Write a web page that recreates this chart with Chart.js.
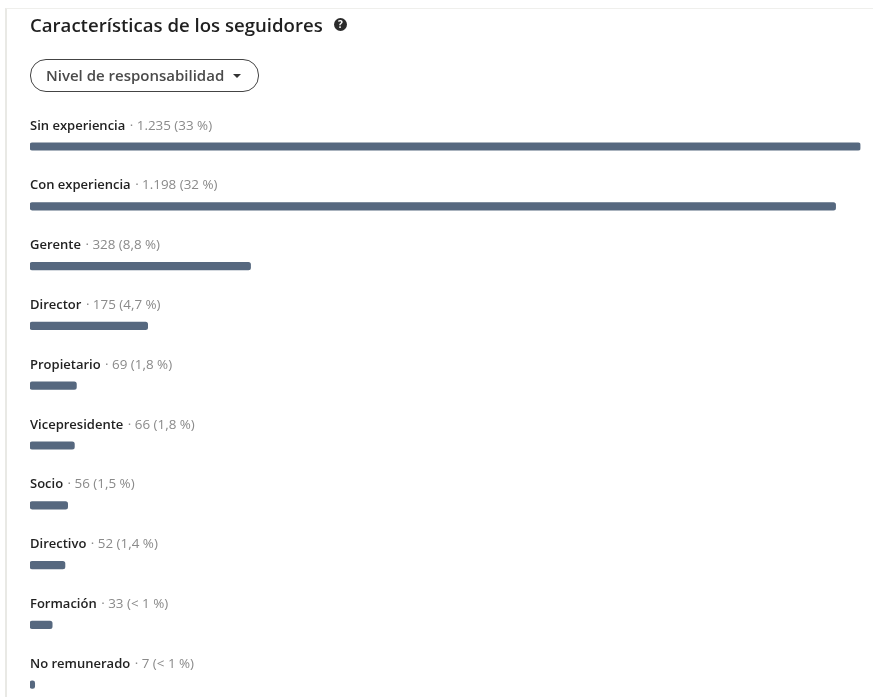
<!DOCTYPE html>
<html lang="es">
<head>
<meta charset="utf-8">
<title>Características de los seguidores</title>
<script src="https://cdn.jsdelivr.net/npm/chart.js@4/dist/chart.umd.min.js"></script>
<style>
  html, body { margin: 0; padding: 0; background: #fff; width: 873px; height: 697px; overflow: hidden; }
  #page { position: relative; width: 873px; height: 697px; overflow: hidden; font-family: "Open Sans", "Noto Sans", sans-serif; }
  #edge { position: absolute; left: 5px; top: 8px; right: 0; bottom: 0; border-left: 2px solid #e9e9e5; border-top: 1px solid #efefec; }
  h1 { position: absolute; left: 30px; top: 13px; margin: 0; font-size: 18.6px; line-height: 24px; font-weight: 600; color: #1f1f1f; white-space: nowrap; }
  #help { position: absolute; left: 334px; top: 18px; width: 13px; height: 13px; border-radius: 50%; background: #2b2b2b; color: #fff; font-size: 10px; line-height: 13px; font-weight: 700; text-align: center; }
  #pill { position: absolute; left: 30px; top: 59px; width: 227px; height: 31px; border: 1px solid #444; border-radius: 16px; font-size: 15px; line-height: 31px; font-weight: 600; color: #4a4a4a; }
  #pill span { position: absolute; left: 15px; white-space: nowrap; }
  #pill i { position: absolute; left: 202px; top: 14px; width: 0; height: 0; border-left: 4.5px solid transparent; border-right: 4.5px solid transparent; border-top: 4.5px solid #333; }
  #box { position: absolute; left: 0; top: 0; width: 873px; height: 717px; }
</style>
</head>
<body>
<div id="page">
  <div id="edge"></div>
  <div id="box"><canvas id="chart"></canvas></div>
  <h1>Características de los seguidores</h1>
  <div id="help">?</div>
  <div id="pill"><span>Nivel de responsabilidad</span><i></i></div>
</div>
<script>
const categories = ["Sin experiencia", "Con experiencia", "Gerente", "Director", "Propietario", "Vicepresidente", "Socio", "Directivo", "Formación", "No remunerado"];
const followers = [1235, 1198, 328, 175, 69, 66, 56, 52, 33, 7];
const countLabels = ["1.235", "1.198", "328", "175", "69", "66", "56", "52", "33", "7"];
const shareLabels = ["33 %", "32 %", "8,8 %", "4,7 %", "1,8 %", "1,8 %", "1,5 %", "1,4 %", "< 1 %", "< 1 %"];

// Writes "Category · count (share)" on the line above each bar.
const rowCaptions = {
  id: "rowCaptions",
  afterDatasetsDraw(chart) {
    const { ctx, scales: { x, y } } = chart;
    ctx.save();
    ctx.textBaseline = "alphabetic";
    ctx.textAlign = "left";
    categories.forEach((name, i) => {
      const left = x.getPixelForValue(0);
      const base = y.getPixelForValue(i) - 17;
      ctx.font = '600 13px "Open Sans", sans-serif';
      ctx.fillStyle = "#222222";
      ctx.fillText(name, left, base);
      const w = ctx.measureText(name).width;
      ctx.font = '400 13.4px "Open Sans", sans-serif';
      ctx.fillStyle = "#8a8a8a";
      ctx.fillText(" · " + countLabels[i] + " (" + shareLabels[i] + ")", left + w + 1, base);
    });
    ctx.restore();
  }
};

new Chart(document.getElementById("chart"), {
  type: "bar",
  data: {
    labels: categories,
    datasets: [{
      data: followers,
      backgroundColor: "#56687f",
      barThickness: 7.5,
      borderRadius: 2.5,
      borderSkipped: false
    }]
  },
  options: {
    indexAxis: "y",
    responsive: true,
    maintainAspectRatio: false,
    animation: false,
    layout: { padding: { left: 30, right: 12.5, top: 116.6, bottom: 2.4 } },
    plugins: { legend: { display: false }, tooltip: { enabled: false } },
    scales: {
      x: { display: false, min: 0, max: 1235 },
      y: { display: false }
    }
  },
  plugins: [rowCaptions]
});
</script>
</body>
</html>
